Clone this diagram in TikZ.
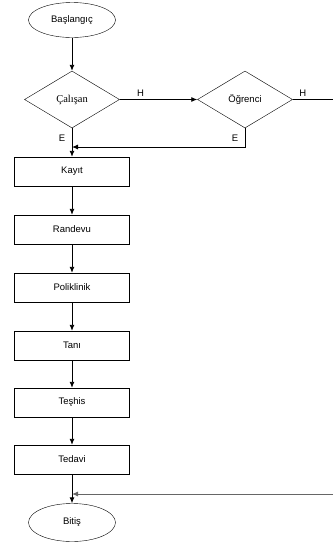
\documentclass[tikz,border=0pt]{standalone}
\usepackage{fontspec}
\setmainfont{Liberation Sans}
\newfontfamily\serifcj{Liberation Serif}
\usetikzlibrary{shapes.geometric,arrows.meta}
\begin{document}
\begin{tikzpicture}[x=1pt,y=-1pt,
  every node/.style={font=\fontsize{9.5}{11}\selectfont},
  term/.style={draw,ellipse,minimum width=87pt,minimum height=35pt,inner sep=0pt},
  dec/.style={draw,diamond,minimum width=95pt,minimum height=57pt,inner sep=0pt,aspect=1.67},
  proc/.style={draw,rectangle,minimum width=115pt,minimum height=29pt,inner sep=0pt},
  lab/.style={inner sep=0pt},
  arr/.style={-{Latex[length=6pt,width=5pt]},line width=0.9pt},
  ln/.style={line width=0.9pt}]
\useasboundingbox (0,0) rectangle (333,542);
\node[term] (start) at (72,20) {Başlangıç};
\node[dec] (calisan) at (72,99.5) {\serifcj\fontsize{10.5}{12}\selectfont Çalışan};
\node[dec] (ogrenci) at (245,99.5) {Öğrenci};
\node[proc] (kayit) at (72,171.5) {Kayıt};
\node[proc] (randevu) at (72,229.5) {Randevu};
\node[proc] (poli) at (72,287.5) {Poliklinik};
\node[proc] (tani) at (72,345.5) {Tanı};
\node[proc] (teshis) at (72,402.5) {Teşhis};
\node[proc] (tedavi) at (72,459.5) {Tedavi};
\node[term,minimum height=38pt] (bitis) at (72,522.5) {Bitiş};
\coordinate (rH) at (333,99.5);
\coordinate (rB) at (333,494);
\coordinate (join1) at (72,147);
\coordinate (join2) at (72,494);

\draw[arr] (start) -- (calisan);
\draw[arr] (calisan) -- (ogrenci) node[lab,pos=0.27,above=3pt] {H};
\draw[ln] (ogrenci.east) -- (rH) node[lab,pos=0.25,above=3pt] {H};
\draw[arr] (calisan) -- (kayit);
\node[lab] at (62,138.5) {E};
\node[lab] at (235,138.5) {E};
\draw[arr] (ogrenci.south) |- (join1);
\draw[arr] (kayit) -- (randevu);
\draw[arr] (randevu) -- (poli);
\draw[arr] (poli) -- (tani);
\draw[arr] (tani) -- (teshis);
\draw[arr] (teshis) -- (tedavi);
\draw[arr] (tedavi) -- (bitis);
\draw[arr,draw=black!60] (rB) -- (join2);
\end{tikzpicture}
\end{document}
